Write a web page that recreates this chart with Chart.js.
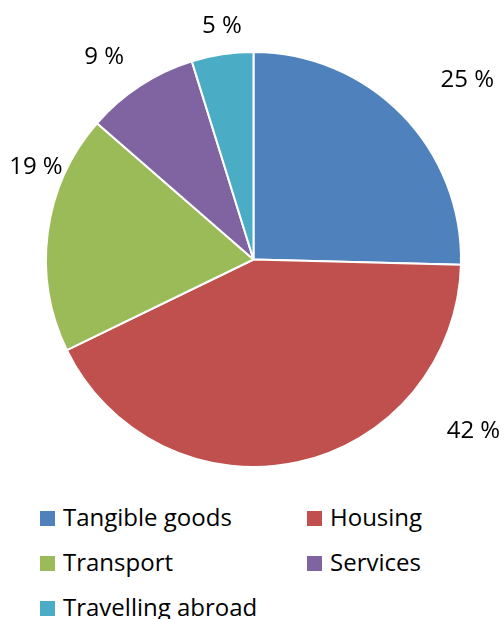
<!DOCTYPE html>
<html>
<head>
<meta charset="utf-8">
<script src="https://cdn.jsdelivr.net/npm/chart.js@4.4.0/dist/chart.umd.min.js"></script>
<style>
  html, body { margin: 0; padding: 0; background: #fff; }
  body { width: 504px; height: 619px; overflow: hidden; position: relative; font-family: "Open Sans", Lato, sans-serif; }
  #wrap { position: absolute; left: 0; top: 0; width: 504px; height: 490px; }
  #legend { position: absolute; left: 0; top: 490px; width: 504px; }
  .item { position: absolute; height: 30px; line-height: 30px; font-size: 24px; color: #000; white-space: nowrap; }
  .box { display: inline-block; width: 15px; height: 15px; margin-right: 8px; vertical-align: 0px; }
</style>
</head>
<body>
<div id="wrap"><canvas id="pie"></canvas></div>
<div id="legend"></div>
<script>
// data (labels show them rounded)
const categories = ["Tangible goods", "Housing", "Transport", "Services", "Travelling abroad"];
const shares = [25.4, 42.4, 18.6, 8.8, 4.8];
const colours = ["#4F81BD", "#C0504D", "#9BBB59", "#8064A2", "#4BACC6"];

// where excel put each % label: angle (deg, clockwise from 3 o'clock) and distance in radii
const labelAngle = [-40, 38, 203, 233.6, 262.3];
const labelDist = [1.345, 1.345, 1.139, 1.213, 1.135];

const pctLabels = {
  id: "pctLabels",
  afterDatasetsDraw(chart) {
    const ctx = chart.ctx;
    const arcs = chart.getDatasetMeta(0).data;
    ctx.save();
    ctx.font = "24px 'Open Sans', Lato, sans-serif";
    ctx.fillStyle = "#000";
    ctx.textAlign = "center";
    ctx.textBaseline = "middle";
    arcs.forEach((arc, i) => {
      const a = labelAngle[i] * Math.PI / 180;
      const r = arc.outerRadius * labelDist[i];
      ctx.fillText(Math.round(shares[i]) + " %", arc.x + Math.cos(a) * r, arc.y + Math.sin(a) * r);
    });
    ctx.restore();
  }
};

new Chart(document.getElementById("pie"), {
  type: "pie",
  data: {
    labels: categories,
    datasets: [{
      data: shares,
      backgroundColor: colours,
      borderColor: "#fff",
      borderWidth: 2
    }]
  },
  options: {
    responsive: true,
    maintainAspectRatio: false,
    animation: false,
    layout: { padding: { top: 51, bottom: 22, left: 45, right: 42 } },
    plugins: {
      legend: { display: false },
      tooltip: { enabled: false }
    }
  },
  plugins: [pctLabels]
});

// legend, two columns like the original
const legend = document.getElementById("legend");
categories.forEach((name, i) => {
  const el = document.createElement("div");
  el.className = "item";
  el.style.left = (i % 2 === 0 ? 40 : 307) + "px";
  el.style.top = (12 + Math.floor(i / 2) * 45) + "px";
  el.innerHTML = '<span class="box" style="background:' + colours[i] + '"></span>' + name;
  legend.appendChild(el);
});
</script>
</body>
</html>
